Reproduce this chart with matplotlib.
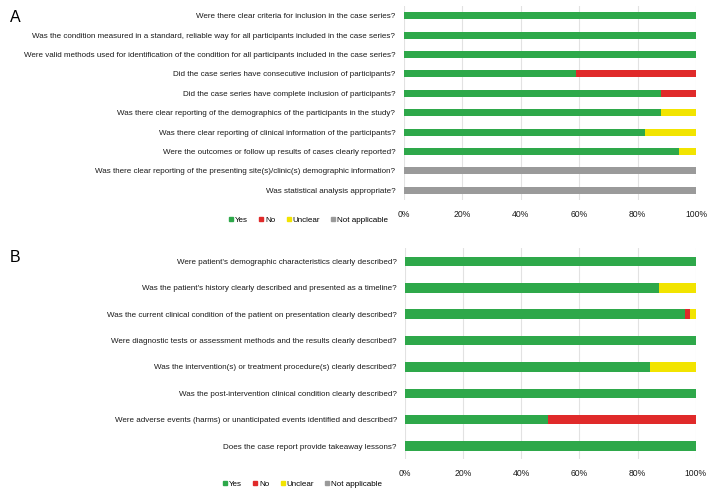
import matplotlib.pyplot as plt
from matplotlib.lines import Line2D
from matplotlib.ticker import PercentFormatter

plt.rcParams['font.family'] = ['Liberation Sans', 'DejaVu Sans']

# panel A - case series checklist (percent of studies)
questions_a = [
    "Were there clear criteria for inclusion in the case series?",
    "Was the condition measured in a standard, reliable way for all participants included in the case series?",
    "Were valid methods used for identification of the condition for all participants included in the case series?",
    "Did the case series have consecutive inclusion of participants?",
    "Did the case series have complete inclusion of participants?",
    "Was there clear reporting of the demographics of the participants in the study?",
    "Was there clear reporting of clinical information of the participants?",
    "Were the outcomes or follow up results of cases clearly reported?",
    "Was there clear reporting of the presenting site(s)/clinic(s) demographic information?",
    "Was statistical analysis appropriate?",
]
yes_a = [100, 100, 100, 58.8, 88.2, 88.2, 82.4, 94.1, 0, 0]
no_a = [0, 0, 0, 41.2, 11.8, 0, 0, 0, 0, 0]
unclear_a = [0, 0, 0, 0, 0, 11.8, 17.6, 5.9, 0, 0]
na_a = [0, 0, 0, 0, 0, 0, 0, 0, 100, 100]

# panel B - case report checklist
questions_b = [
    "Were patient's demographic characteristics clearly described?",
    "Was the patient's history clearly described and presented as a timeline?",
    "Was the current clinical condition of the patient on presentation clearly described?",
    "Were diagnostic tests or assessment methods and the results clearly described?",
    "Was the intervention(s) or treatment procedure(s) clearly described?",
    "Was the post-intervention clinical condition clearly described?",
    "Were adverse events (harms) or unanticipated events identified and described?",
    "Does the case report provide takeaway lessons?",
]
yes_b = [100, 87.5, 96.4, 100, 84.2, 100, 49.1, 100]
no_b = [0, 0, 1.8, 0, 0, 0, 50.9, 0]
unclear_b = [0, 12.5, 1.8, 0, 15.8, 0, 0, 0]
na_b = [0, 0, 0, 0, 0, 0, 0, 0]

cats = ["Yes", "No", "Unclear", "Not applicable"]
colors = ["#2ea84a", "#e02a2a", "#f2e400", "#9a9a9a"]
fs = 5.8


def draw_panel(ax, questions, series, bar_h):
    y = list(range(len(questions)))
    left = [0] * len(questions)
    for vals, col in zip(series, colors):
        ax.barh(y, vals, left=left, height=bar_h, color=col, linewidth=0)
        left = [l + v for l, v in zip(left, vals)]
    ax.set_yticks(y)
    ax.set_yticklabels(questions, fontsize=fs, color="#1a1a1a")
    ax.set_ylim(len(questions) - 0.5, -0.5)
    ax.set_xlim(0, 100)
    ax.set_xticks([0, 20, 40, 60, 80, 100])
    ax.xaxis.set_major_formatter(PercentFormatter(decimals=0))
    ax.tick_params(axis="x", labelsize=6.2, length=0, pad=7, colors="#1a1a1a")
    ax.tick_params(axis="y", length=0, pad=6)
    ax.grid(axis="x", color="#e2e2e2", linewidth=0.8)
    ax.set_axisbelow(True)
    for s in ax.spines.values():
        s.set_visible(False)


fig = plt.figure(figsize=(7.12, 4.96), dpi=100)
ax_a = fig.add_axes([0.567, 0.597, 0.4105, 0.391])
ax_b = fig.add_axes([0.569, 0.074, 0.408, 0.4254])

draw_panel(ax_a, questions_a, [yes_a, no_a, unclear_a, na_a], 0.36)
draw_panel(ax_b, questions_b, [yes_b, no_b, unclear_b, na_b], 0.36)

handles = [Line2D([], [], marker="s", linestyle="none", markersize=3.2,
                  color=c) for c in colors]
for yy, xx in [(1 - 220 / 496, 308 / 712), (1 - 484 / 496, 302 / 712)]:
    fig.legend(handles, cats, loc="center", bbox_to_anchor=(xx, yy), ncol=4,
               frameon=False, fontsize=fs, handletextpad=0.1,
               columnspacing=1.25, handlelength=0.8)

fig.text(10 / 712, 1 - 17 / 496, "A", fontsize=11.5, va="center")
fig.text(10 / 712, 1 - 258 / 496, "B", fontsize=11.5, va="center")

fig.savefig("out.png", dpi=100)
